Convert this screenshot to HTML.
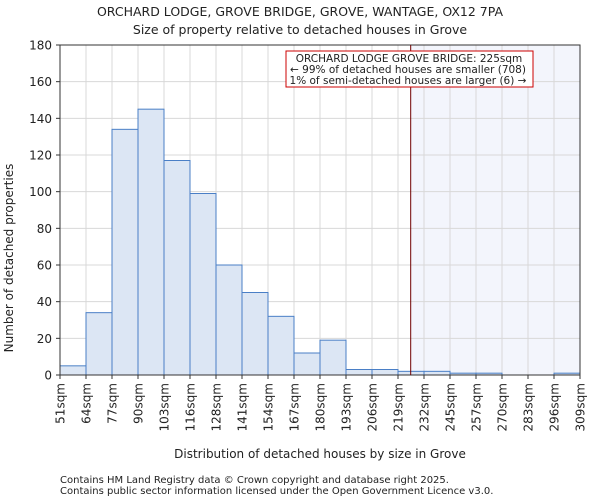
<!DOCTYPE html>
<html><head><meta charset="utf-8"><style>
body{margin:0;background:#fff;font-family:"DejaVu Sans","Liberation Sans",sans-serif}
svg text{font-family:"DejaVu Sans","Liberation Sans",sans-serif;fill:#222}
</style></head><body>
<svg id="c" width="600" height="500" xmlns="http://www.w3.org/2000/svg"></svg>
<script>
const binLabels=["51sqm","64sqm","77sqm","90sqm","103sqm","116sqm","128sqm","141sqm","154sqm","167sqm","180sqm","193sqm","206sqm","219sqm","232sqm","245sqm","257sqm","270sqm","283sqm","296sqm","309sqm"];
const counts=[5,34,134,145,117,99,60,45,32,12,19,3,3,2,2,1,1,0,0,1];
const yTicks=[0,20,40,60,80,100,120,140,160,180];
const xMin=51,xMax=309,marker=225;
const L=60,R=580,T=45,B=375,yMax=180;
const svg=document.getElementById('c');const NS='http://www.w3.org/2000/svg';
function el(t,a,p){const e=document.createElementNS(NS,t);for(const k in a)e.setAttribute(k,a[k]);(p||svg).appendChild(e);return e;}
const bw=(R-L)/counts.length;
const xi=i=>L+i*bw;
const xv=v=>L+(v-xMin)/(xMax-xMin)*(R-L);
const y=v=>B-v/yMax*(B-T);
let t=el('text',{x:300,y:16,'text-anchor':'middle','font-size':12.5});t.textContent='ORCHARD LODGE, GROVE BRIDGE, GROVE, WANTAGE, OX12 7PA';

t=el('text',{x:300,y:34,'text-anchor':'middle','font-size':12.5});t.textContent='Size of property relative to detached houses in Grove';

let h=el('rect',{x:xv(marker),y:T,width:R-xv(marker),height:B-T,fill:'#f3f5fc'});

for(let i=0;i<=counts.length;i++){el('line',{x1:xi(i),x2:xi(i),y1:T,y2:B,stroke:'#d8d8d8','stroke-width':1});}
yTicks.forEach(v=>{el('line',{x1:L,x2:R,y1:y(v),y2:y(v),stroke:'#d8d8d8','stroke-width':1});
 const tx=el('text',{x:L-8,y:y(v)+4.5,'text-anchor':'end','font-size':12});tx.textContent=v;
 
 el('line',{x1:L-4,x2:L,y1:y(v),y2:y(v),stroke:'#333'});});
counts.forEach((c,i)=>{if(c<=0)return;const r=el('rect',{x:xi(i),y:y(c),width:bw,height:B-y(c),fill:'#dce6f4',stroke:'#4a7fc6','stroke-width':1});
 });
binLabels.forEach((lb,i)=>{const X=xi(i);el('line',{x1:X,x2:X,y1:B,y2:B+4,stroke:'#333'});
 const tx=el('text',{x:0,y:0,'text-anchor':'end','font-size':12,transform:`translate(${X+4.5},${B+8}) rotate(-90)`});tx.textContent=lb;
 });
el('rect',{x:L,y:T,width:R-L,height:B-T,fill:'none',stroke:'#333','stroke-width':1});
const mx=xv(marker);let m=el('line',{x1:mx,x2:mx,y1:T,y2:B,stroke:'#700000','stroke-width':1});

const g=el('g',{});
el('rect',{x:286,y:51,width:247,height:36,fill:'#fff',stroke:'#cc0000','stroke-width':1},g);
[['ORCHARD LODGE GROVE BRIDGE: 225sqm',62,409],['← 99% of detached houses are smaller (708)',73,408],['1% of semi-detached houses are larger (6) →',84,408]].forEach(a=>{const tx=el('text',{x:a[2],y:a[1],'text-anchor':'middle','font-size':10.5},g);tx.textContent=a[0];});
t=el('text',{x:0,y:0,'text-anchor':'middle','font-size':12,transform:'translate(13,258) rotate(-90)'});t.textContent='Number of detached properties';

t=el('text',{x:320,y:458,'text-anchor':'middle','font-size':12});t.textContent='Distribution of detached houses by size in Grove';

t=el('text',{x:60,y:483,'font-size':10,fill:'#444'});t.textContent='Contains HM Land Registry data © Crown copyright and database right 2025.';

t=el('text',{x:60,y:494,'font-size':10,fill:'#444'});t.textContent='Contains public sector information licensed under the Open Government Licence v3.0.';

</script></body></html>
